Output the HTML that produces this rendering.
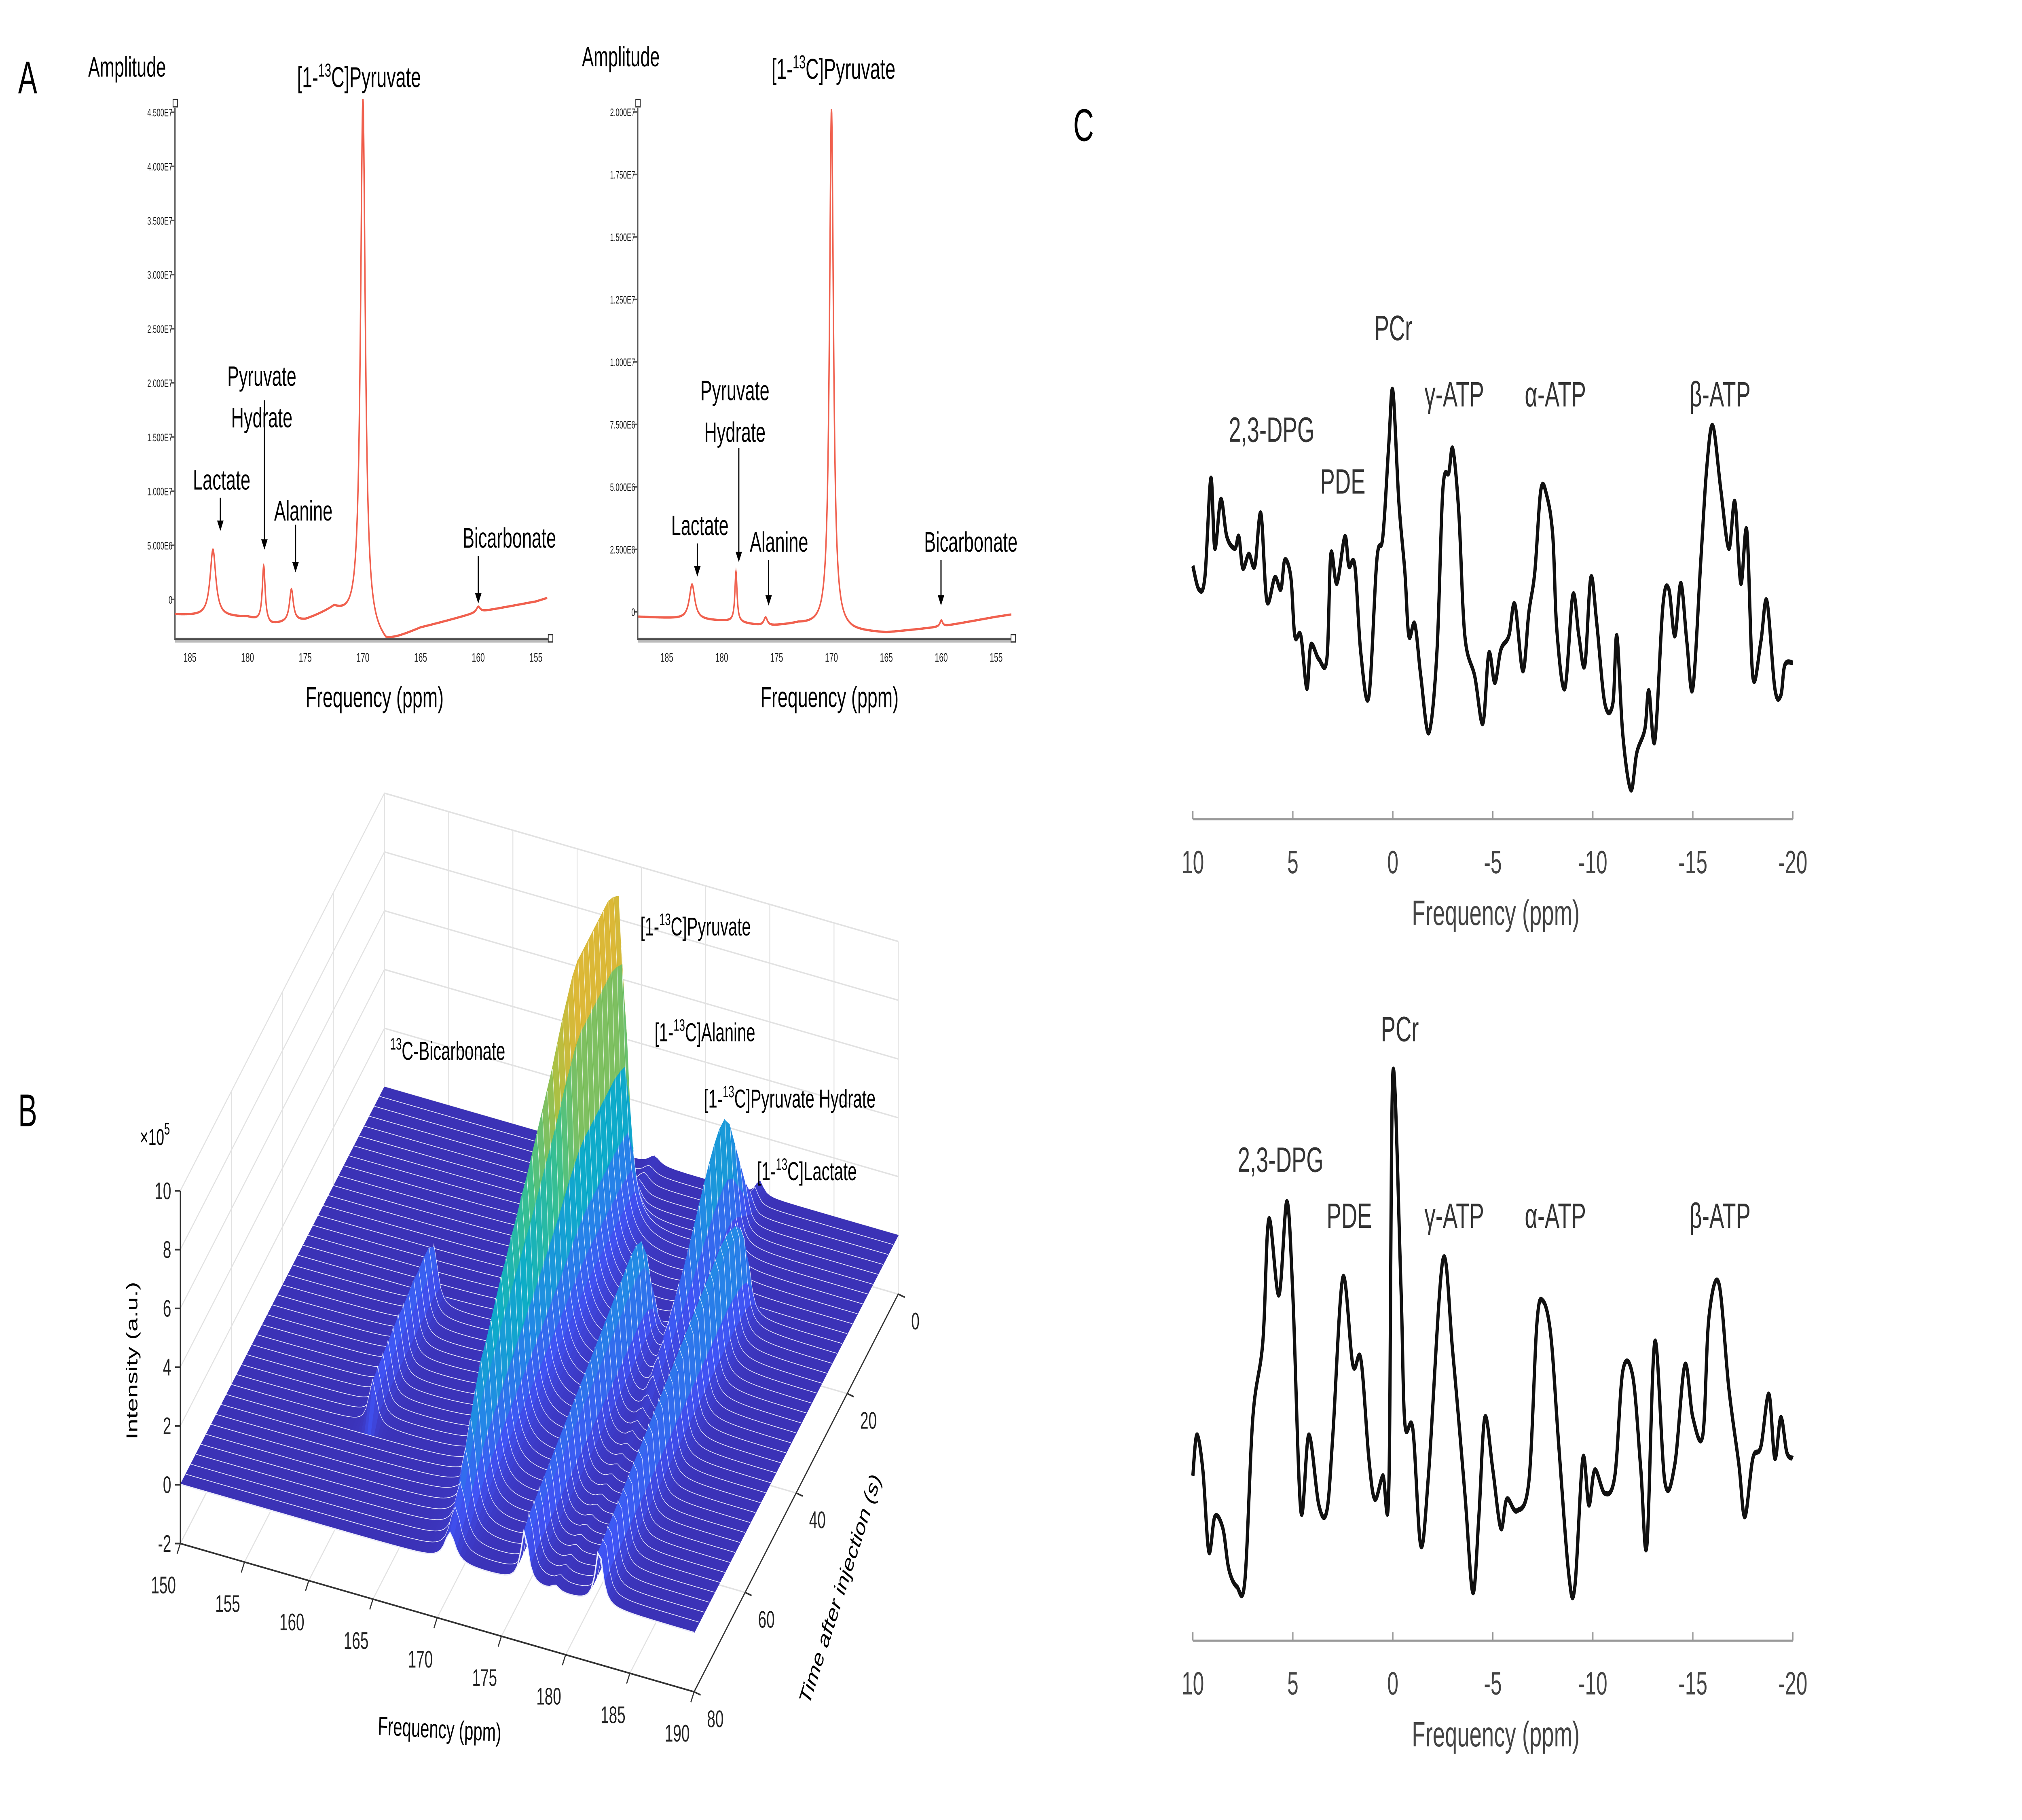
<!DOCTYPE html>
<html><head><meta charset="utf-8"><style>
html,body{margin:0;padding:0;background:#fff;width:100%;height:100%;overflow:hidden;}
svg{display:block;width:100vw;height:100vh;}
text{font-family:"Liberation Sans",sans-serif;}
</style></head><body>
<svg id="s" xmlns="http://www.w3.org/2000/svg" viewBox="0 0 1560 877.5" preserveAspectRatio="none">
<rect x="0" y="0" width="1560" height="877.5" fill="#fff"/>
<text x="14" y="45" font-size="22">A</text>
<text x="14" y="543" font-size="22">B</text>
<text x="828" y="68" font-size="22">C</text>

<g id="aL">
<text x="68" y="37" font-size="13.5">Amplitude</text>
<text x="277" y="42" font-size="14" text-anchor="middle">[1-<tspan font-size="9" dy="-5">13</tspan><tspan dy="5">C]Pyruvate</tspan></text>
<text x="202" y="186" font-size="13.5" text-anchor="middle">Pyruvate</text>
<text x="202" y="206" font-size="13.5" text-anchor="middle">Hydrate</text>
<text x="171" y="236" font-size="13.5" text-anchor="middle">Lactate</text>
<text x="234" y="251" font-size="13.5" text-anchor="middle">Alanine</text>
<text x="393" y="264" font-size="13.5" text-anchor="middle">Bicarbonate</text>
<text x="289" y="341" font-size="14" text-anchor="middle">Frequency (ppm)</text>
</g>
<g id="aR">
<text x="449" y="32" font-size="13.5">Amplitude</text>
<text x="643" y="38" font-size="14" text-anchor="middle">[1-<tspan font-size="9" dy="-5">13</tspan><tspan dy="5">C]Pyruvate</tspan></text>
<text x="567" y="193" font-size="13.5" text-anchor="middle">Pyruvate</text>
<text x="567" y="213" font-size="13.5" text-anchor="middle">Hydrate</text>
<text x="540" y="258" font-size="13.5" text-anchor="middle">Lactate</text>
<text x="601" y="266" font-size="13.5" text-anchor="middle">Alanine</text>
<text x="749" y="266" font-size="13.5" text-anchor="middle">Bicarbonate</text>
<text x="640" y="341" font-size="14" text-anchor="middle">Frequency (ppm)</text>
</g>

<g id="b"></g>
<g id="bl">
<text x="494" y="451" font-size="12.5">[1-<tspan font-size="8" dy="-5">13</tspan><tspan dy="5">C]Pyruvate</tspan></text>
<text x="505" y="502" font-size="12.5">[1-<tspan font-size="8" dy="-5">13</tspan><tspan dy="5">C]Alanine</tspan></text>
<text x="543" y="534" font-size="12.5">[1-<tspan font-size="8" dy="-5">13</tspan><tspan dy="5">C]Pyruvate Hydrate</tspan></text>
<text x="584" y="569" font-size="12.5">[1-<tspan font-size="8" dy="-5">13</tspan><tspan dy="5">C]Lactate</tspan></text>
<text x="301" y="511" font-size="12.5"><tspan font-size="8" dy="-5">13</tspan><tspan dy="5">C-Bicarbonate</tspan></text>
<text x="108" y="552" font-size="11">×10<tspan font-size="8" dy="-5">5</tspan></text>
<text transform="translate(106,656) rotate(-90)" font-size="12" text-anchor="middle">Intensity (a.u.)</text>
<text transform="translate(339,838) rotate(2)" font-size="12.5" text-anchor="middle">Frequency (ppm)</text>
<text transform="translate(652,768) rotate(-63)" font-size="12.5" text-anchor="middle">Time after injection (s)</text>
</g>

<g id="c">
<text x="1075" y="164" font-size="17" fill="#333" text-anchor="middle">PCr</text>
<text x="981" y="213" font-size="17" fill="#333" text-anchor="middle">2,3-DPG</text>
<text x="1036" y="238" font-size="17" fill="#333" text-anchor="middle">PDE</text>
<text x="1122" y="196" font-size="17" fill="#333" text-anchor="middle">γ-ATP</text>
<text x="1200" y="196" font-size="17" fill="#333" text-anchor="middle">α-ATP</text>
<text x="1327" y="196" font-size="17" fill="#333" text-anchor="middle">β-ATP</text>
<text x="1080" y="502" font-size="17" fill="#333" text-anchor="middle">PCr</text>
<text x="988" y="565" font-size="17" fill="#333" text-anchor="middle">2,3-DPG</text>
<text x="1041" y="592" font-size="17" fill="#333" text-anchor="middle">PDE</text>
<text x="1122" y="592" font-size="17" fill="#333" text-anchor="middle">γ-ATP</text>
<text x="1200" y="592" font-size="17" fill="#333" text-anchor="middle">α-ATP</text>
<text x="1327" y="592" font-size="17" fill="#333" text-anchor="middle">β-ATP</text>
<text x="1154" y="446" font-size="17" fill="#444" text-anchor="middle">Frequency (ppm)</text>
<text x="1154" y="842" font-size="17" fill="#444" text-anchor="middle">Frequency (ppm)</text>
</g>
</svg>
<script>
// ---------- Panel A data ----------
const aLeftBaseF=[186.5,183.5,180,178,175,172.5,168,165,160,155,153.8];
const aLeftBaseV=[-0.14,-0.16,-0.17,-0.24,-0.2,-0.1,-0.42,-0.27,-0.12,-0.02,0.02];
const aLeftPeakF=[183,178.6,176.2,170,160];
const aLeftPeakA=[0.62,0.52,0.3,4.9,0.05];
const aLeftPeakW=[0.3,0.15,0.2,0.25,0.2];
const aLeftYTicks=[0,0.5,1,1.5,2,2.5,3,3.5,4,4.5];
const aLeftYLabels=["0","5.000E6","1.000E7","1.500E7","2.000E7","2.500E7","3.000E7","3.500E7","4.000E7","4.500E7"];
const aRightBaseF=[187.5,183,179,176,173,168,165,160,155,153.5];
const aRightBaseV=[-0.02,-0.03,-0.04,-0.06,-0.05,-0.08,-0.085,-0.06,-0.02,-0.01];
const aRightPeakF=[182.7,178.7,176,170,160];
const aRightPeakA=[0.14,0.2,0.035,2.08,0.025];
const aRightPeakW=[0.3,0.12,0.2,0.22,0.15];
const aRightYTicks=[0,0.25,0.5,0.75,1,1.25,1.5,1.75,2];
const aRightYLabels=["0","2.500E6","5.000E6","7.500E6","1.000E7","1.250E7","1.500E7","1.750E7","2.000E7"];
const aXTicks=[185,180,175,170,165,160,155];

// ---------- Panel B data ----------
const bTimes=[0,2,4,6,8,10,12,14,16,18,20,22,24,26,28,30,32,34,36,38,40,42,44,46,48,50,52,54,56,58,60,62,64,66,68,70,72,74,76,78,80];
const bPyruvate=[0.3,0.3,0.4,0.5,1,3,8,11.5,11.8,12,12,12,12,12,12,12,11.8,11.4,11,10.5,10,9.6,9.2,8.8,8.4,8,7.7,7.3,7,6.6,6.3,5.9,5.5,5.1,4.8,4.2,3.5,2.8,2,1.5,1];
const bHydrate=[0.5,0.6,0.8,1.5,2.5,3.5,4.5,5,5,4.8,4.5,4.1,3.7,3.3,2.9,2.5,2.2,1.9,1.6,1.3,1.1,0.8,0.5,0.4,0.3,0.3,0.2,0.2,0.2,0.2,0.2,0.2,0.2,0.2,0.2,0.2,0.2,0.2,0.2,0.2,0.2];
const bAlanine=[0,0,0,0,0,0,0,0,0,0,0,0,0,0,0,1.5,3,3.8,4,4,3.9,3.8,3.7,3.6,3.5,3.4,3.3,3.2,3.1,3,2.9,2.8,2.7,2.6,2.5,2.4,2.3,2.2,2.1,2,1.8];
const bLactate=[0,0,0,0,0,0,0,0,0,0,0,2,3.5,4,4.2,4.3,4.3,4.2,4.1,4,3.9,3.8,3.7,3.6,3.5,3.4,3.3,3.2,3.1,3,2.9,2.8,2.7,2.6,2.5,2.4,2.3,2.2,2.1,2,1.9];
const bBicarb=[0,0,0,0,0,0,0,0,0,0,0,0,0,0,0,0,0,0,2,2.3,2.3,2.2,2.2,2.1,2,2,1.9,1.8,1.7,1.6,1.5,0,0,0,0,0,0,0,0,0,0];
const bPeakF=[171,179.2,176.8,182.6,161];
const bPeakW=[0.5,0.35,0.35,0.35,0.35];
const bFreqTicks=[150,155,160,165,170,175,180,185,190];
const bTimeTicks=[0,20,40,60,80];
const bZTicks=[-2,0,2,4,6,8,10];

// ---------- Panel C data ----------
const cTopPpm=[10,9.7,9.4,9.1,8.9,8.6,8.3,7.9,7.7,7.5,7.2,6.9,6.6,6.3,5.9,5.6,5.4,5.1,4.9,4.6,4.3,4.1,3.7,3.3,3.1,2.8,2.4,2.2,1.9,1.6,1.2,0.8,0.5,0.2,0,-0.3,-0.6,-0.8,-1.1,-1.4,-1.8,-2.2,-2.5,-2.8,-3.0,-3.3,-3.6,-4.1,-4.5,-4.8,-5.1,-5.4,-5.8,-6.1,-6.5,-6.8,-7.1,-7.4,-7.7,-8.0,-8.2,-8.6,-9.0,-9.3,-9.6,-9.9,-10.2,-10.6,-11.0,-11.2,-11.5,-11.9,-12.2,-12.6,-12.8,-13.1,-13.5,-13.8,-14.1,-14.4,-14.7,-15.0,-15.4,-15.7,-16.0,-16.4,-16.8,-17.1,-17.4,-17.7,-18.0,-18.4,-18.7,-19.1,-19.4,-19.6,-20];
const cTopVal=[515,495,505,590,530,572,540,530,540,513,525,515,560,485,505,495,520,505,455,455,410,447,435,435,525,500,540,515,515,440,403,520,540,620,665,570,510,455,465,420,372,440,580,595,615,560,455,420,380,440,415,443,455,482,425,475,510,580,575,540,460,410,490,455,430,505,465,397,397,455,370,323,355,375,408,365,480,495,455,500,450,410,520,600,635,580,530,570,500,545,420,450,485,410,404,430,432];
const cBotPpm=[10,9.8,9.5,9.2,8.9,8.5,8.2,7.8,7.4,7.0,6.5,6.2,5.7,5.3,5.0,4.6,4.2,3.7,3.3,3.0,2.5,2.0,1.6,1.2,0.9,0.5,0.2,0,-0.4,-0.6,-1.0,-1.4,-1.8,-2.5,-3.0,-3.6,-4.0,-4.3,-4.6,-5.0,-5.4,-5.7,-6.2,-6.8,-7.2,-7.5,-7.9,-8.3,-8.8,-9.1,-9.5,-9.8,-10.1,-10.6,-11.1,-11.5,-12.0,-12.4,-12.7,-13.1,-13.6,-14.1,-14.6,-15.0,-15.5,-15.8,-16.3,-16.8,-17.3,-17.6,-18.0,-18.4,-18.8,-19.1,-19.4,-19.7,-20];
const cBotVal=[735,770,740,670,700,690,655,640,645,785,850,955,890,970,890,705,770,710,705,770,905,830,835,750,715,735,725,1080,900,780,775,675,740,920,840,720,635,700,785,740,690,715,705,730,865,885,855,760,650,640,750,710,740,720,735,825,820,740,675,850,730,745,830,785,770,870,900,810,745,700,750,760,805,750,785,755,750];
const cXTicks=[10,5,0,-5,-10,-15,-20];

const NS="http://www.w3.org/2000/svg";
const svg=document.getElementById('s');
function mk(tag,attrs,parent){const e=document.createElementNS(NS,tag);for(const k in attrs)e.setAttribute(k,attrs[k]);(parent||svg).appendChild(e);return e;}
function interp(xs,ys,x){
  if(x>=xs[0])return ys[0];
  for(let i=0;i<xs.length-1;i++){if(x<=xs[i]&&x>=xs[i+1]){const t=(xs[i]-x)/(xs[i]-xs[i+1]);return ys[i]+t*(ys[i+1]-ys[i]);}}
  return ys[ys.length-1];
}
function arrow(g,x,y1,y2,name){
  const l=mk('line',{x1:x,y1:y1,x2:x,y2:y2-4,stroke:'#000','stroke-width':0.9},g);
  
  
  const p=mk('polygon',{points:`${x-2.5},${y2-5} ${x+2.5},${y2-5} ${x},${y2}`,fill:'#000'},g);
  
  
}
function drawA(gid,o){
  const g=document.getElementById(gid);
  const X=f=>o.x170+(170-f)*o.ppx;
  const Y=v=>o.y0-v*o.pyv;
  const ax=mk('path',{d:`M${o.axL},${o.top} V${o.axB} H${o.axR}`,fill:'none',stroke:'#555','stroke-width':1},g);
  
  
  const xl2=mk('line',{x1:o.axL,y1:o.axB+1.2,x2:o.axR,y2:o.axB+1.2,stroke:'#bbb','stroke-width':1.2},g);
  
  
  const s1=mk('rect',{x:o.axL-1.5,y:o.top-4,width:3.5,height:3.5,fill:'#fff',stroke:'#333','stroke-width':0.6},g);
  
  
  const s2=mk('rect',{x:o.axR-1,y:o.axB-2,width:3.5,height:3.5,fill:'#fff',stroke:'#333','stroke-width':0.6},g);
  
  
  o.yt.forEach((v,i)=>{
    const tk=mk('line',{x1:o.axL-3,x2:o.axL,y1:Y(v),y2:Y(v),stroke:'#555','stroke-width':0.7},g);
    
    
    const t=mk('text',{x:o.axL-2,y:Y(v)+2,'font-size':5.2,'text-anchor':'end',fill:'#222'},g);
    t.textContent=o.yl[i];
    
    
  });
  aXTicks.forEach(f=>{
    const t=mk('text',{x:X(f),y:o.axB+11,'font-size':6,'text-anchor':'middle',fill:'#222'},g);
    t.textContent=f;
    
    
  });
  let d='';
  for(let f=o.fL;f>=o.fR;f-=0.02){
    let v=interp(o.bf,o.bv,f);
    o.pf.forEach((p,i)=>{const w=o.pw[i];v+=o.pa[i]*w*w/((f-p)*(f-p)+w*w);});
    d+=(d?'L':'M')+X(f).toFixed(2)+','+Y(v).toFixed(2);
  }
  const sp=mk('path',{d:d,fill:'none',stroke:'#f0604e','stroke-width':1.1},g);
  
  
}
drawA('aL',{x170:280,ppx:8.9,y0:289,pyv:52.2,axL:135,axR:424,axB:308,top:52,fL:186.3,fR:154,bf:aLeftBaseF,bv:aLeftBaseV,pf:aLeftPeakF,pa:aLeftPeakA,pw:aLeftPeakW,yt:aLeftYTicks,yl:aLeftYLabels});
drawA('aR',{x170:641.5,ppx:8.47,y0:295,pyv:120.5,axL:492,axR:781,axB:308,top:52,fL:187.6,fR:153.6,bf:aRightBaseF,bv:aRightBaseV,pf:aRightPeakF,pa:aRightPeakA,pw:aRightPeakW,yt:aRightYTicks,yl:aRightYLabels});
{const g=document.getElementById('aL');
arrow(g,170,240,256,'lactate-arrow-left');arrow(g,204,193,265,'hydrate-arrow-left');arrow(g,228,253,276,'alanine-arrow-left');arrow(g,369,268,291,'bicarbonate-arrow-left');}
{const g=document.getElementById('aR');
arrow(g,538,262,278,'lactate-arrow-right');arrow(g,570,216,271,'hydrate-arrow-right');arrow(g,593,270,292,'alanine-arrow-right');arrow(g,726,270,292,'bicarbonate-arrow-right');}

const gb=document.getElementById('b');
const P=(f,t,z)=>[139.1+(f-150)/40*396.4+(80-t)/80*157.5, 744.2+(f-150)/40*71.5-(80-t)/80*191.75-(z+2)*14.17];
const stops=[[0,[58,42,168]],[0.15,[64,83,245]],[0.3,[35,136,230]],[0.45,[13,173,200]],[0.6,[60,193,140]],[0.75,[170,192,68]],[0.9,[240,180,50]],[1,[249,251,14]]];
function parula(c){c=Math.max(0,Math.min(1,c));for(let i=0;i<stops.length-1;i++){if(c<=stops[i+1][0]){const a=stops[i],b=stops[i+1],t=(c-a[0])/(b[0]-a[0]);return 'rgb('+a[1].map((v,k)=>Math.round(v+t*(b[1][k]-v))).join(',')+')';}}return 'rgb(249,251,14)';}
function pt(p){return p[0].toFixed(2)+','+p[1].toFixed(2);}
function gridLine(a,b,name){const l=mk('line',{x1:a[0],y1:a[1],x2:b[0],y2:b[1],stroke:'#e2e2e2','stroke-width':0.7},gb);}
bFreqTicks.forEach(f=>gridLine(P(f,0,-2),P(f,0,10),'back-wall-grid-v'));
bZTicks.forEach(z=>{gridLine(P(150,0,z),P(190,0,z),'back-wall-grid-h');gridLine(P(150,0,z),P(150,80,z),'side-wall-grid-h');});
gridLine(P(150,0,10),P(190,0,10),'back-wall-grid-h');
bTimeTicks.forEach(t=>gridLine(P(150,t,-2),P(150,t,10),'side-wall-grid-v'));
bFreqTicks.forEach(f=>gridLine(P(f,0,-2),P(f,80,-2),'floor-grid'));
bTimeTicks.forEach(t=>gridLine(P(150,t,-2),P(190,t,-2),'floor-grid'));
const amps=[bPyruvate,bHydrate,bAlanine,bLactate,bBicarb];
function zAt(i,f){let z=0;bPeakF.forEach((p,k)=>{const w=bPeakW[k];z+=amps[k][i]*w*w/((f-p)*(f-p)+w*w);});return z;}
const fstep=0.25;
for(let i=0;i<bTimes.length-1;i++){
  const t0=bTimes[i],t1=bTimes[i+1];
  const row=mk('g',{},gb);
  
  
  let runColor=null,runPts0=[],runPts1=[];
  const flush=()=>{if(runPts0.length<2)return;const pts=runPts0.concat(runPts1.slice().reverse());const q=mk('polygon',{points:pts.map(pt).join(' '),fill:runColor,stroke:runColor,'stroke-width':0.35},row);};
  for(let f=150;f<=190.001;f+=fstep){
    const za=zAt(i,f),zb=zAt(i+1,f);
    const col=parula((Math.max(za,zb)+0.4)/14.5);
    const p0=P(f,t0,za),p1=P(f,t1,zb);
    if(col!==runColor){ if(runColor!==null){runPts0.push(p0);runPts1.push(p1);flush();} runColor=col;runPts0=[p0];runPts1=[p1]; }
    else {runPts0.push(p0);runPts1.push(p1);}
  }
  flush();
  let d='';
  for(let f=150;f<=190.001;f+=fstep){d+=(d?'L':'M')+pt(P(f,t1,zAt(i+1,f)));}
  const wl=mk('path',{d:d,fill:'none',stroke:'#fff','stroke-width':1.0,opacity:0.9},row);
  
  
}
function axLine(a,b,name){const l=mk('line',{x1:a[0],y1:a[1],x2:b[0],y2:b[1],stroke:'#333','stroke-width':0.8},gb);}
axLine(P(150,80,-2),P(150,80,10),'z-axis');
axLine(P(150,80,-2),P(190,80,-2),'frequency-axis');
axLine(P(190,80,-2),P(190,0,-2),'time-axis');
bZTicks.forEach(z=>{const p=P(150,80,z);axLine(p,[p[0]-4,p[1]],'z-tick');const t=mk('text',{x:p[0]-7,y:p[1]+4,'font-size':11.5,'text-anchor':'end',fill:'#222'},gb);t.textContent=z;});
bFreqTicks.forEach(f=>{const p=P(f,80,-2);axLine(p,[p[0]-2.5,p[1]+5],'frequency-tick');const t=mk('text',{x:p[0]-13,y:p[1]+24,'font-size':11.5,'text-anchor':'middle',fill:'#222'},gb);t.textContent=f;});
bTimeTicks.forEach(tt=>{const p=P(190,tt,-2);axLine(p,[p[0]+5,p[1]+1.5],'time-tick');const t=mk('text',{x:p[0]+10,y:p[1]+17,'font-size':11.5,fill:'#222'},gb);t.textContent=tt;});
svg.appendChild(document.getElementById('bl'));

const gc=document.getElementById('c');
const cX=p=>1074.6-p*15.43;
function smooth(pts){let d='M'+pts[0][0].toFixed(2)+','+pts[0][1].toFixed(2);for(let i=0;i<pts.length-1;i++){const p0=pts[i-1]||pts[i],p1=pts[i],p2=pts[i+1],p3=pts[i+2]||p2;const c1=[p1[0]+(p2[0]-p0[0])/6,p1[1]+(p2[1]-p0[1])/6],c2=[p2[0]-(p3[0]-p1[0])/6,p2[1]-(p3[1]-p1[1])/6];d+='C'+c1[0].toFixed(2)+','+c1[1].toFixed(2)+' '+c2[0].toFixed(2)+','+c2[1].toFixed(2)+' '+p2[0].toFixed(2)+','+p2[1].toFixed(2);}return d;}
function drawC(ppm,val,off,axY,name){
  const pts=ppm.map((p,i)=>[cX(p),0.5625*(off-val[i])]);
  const l=mk('path',{d:smooth(pts),fill:'none',stroke:'#111','stroke-width':2.5,'stroke-linejoin':'round'},gc);
  
  
  const a=mk('line',{x1:cX(10),x2:cX(-20),y1:axY,y2:axY,stroke:'#999','stroke-width':1},gc);
  
  
  cXTicks.forEach(p=>{
    const tk=mk('line',{x1:cX(p),x2:cX(p),y1:axY,y2:axY-4,stroke:'#999','stroke-width':1},gc);
    
    
    const t=mk('text',{x:cX(p),y:axY+26,'font-size':15.5,'text-anchor':'middle',fill:'#444'},gc);
    t.textContent=p;
    
    
  });
}
drawC(cTopPpm,cTopVal,1000,395,'top');
drawC(cBotPpm,cBotVal,2000,791,'bottom');
</script>
</body></html>
